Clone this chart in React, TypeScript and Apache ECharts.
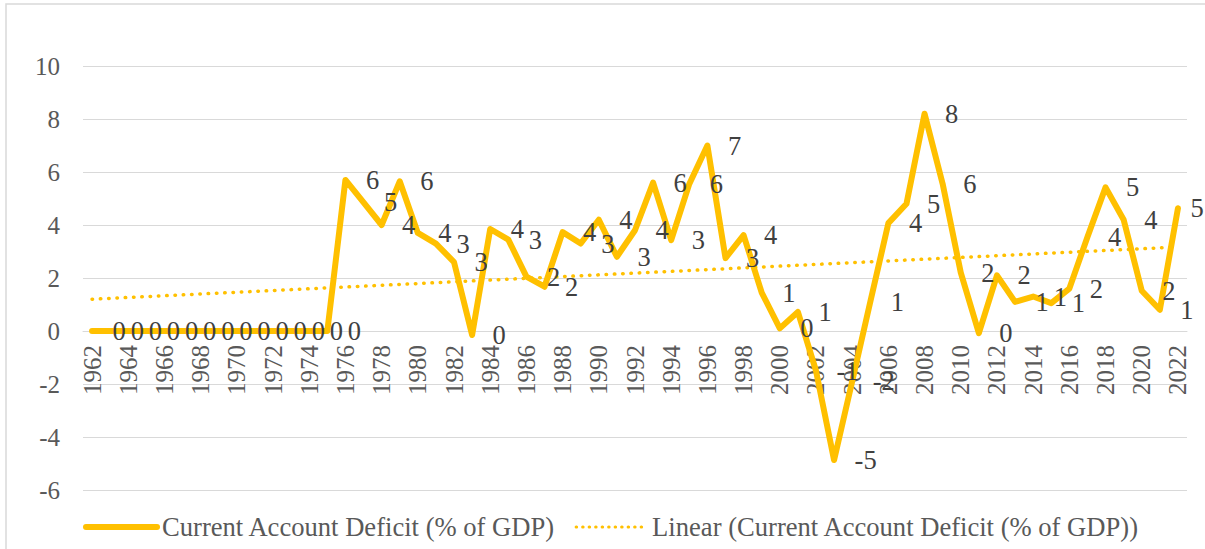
import React, { useEffect, useRef } from "react";
import * as echarts from "echarts";

const years: string[] = [
  "1962", "1963", "1964", "1965", "1966", "1967", "1968", "1969", "1970", "1971",
  "1972", "1973", "1974", "1975", "1976", "1977", "1978", "1979", "1980", "1981",
  "1982", "1983", "1984", "1985", "1986", "1987", "1988", "1989", "1990", "1991",
  "1992", "1993", "1994", "1995", "1996", "1997", "1998", "1999", "2000", "2001",
  "2002", "2003", "2004", "2005", "2006", "2007", "2008", "2009", "2010", "2011",
  "2012", "2013", "2014", "2015", "2016", "2017", "2018", "2019", "2020", "2021",
  "2022",
];

const deficit: number[] = [
  0, 0, 0, 0, 0, 0, 0, 0, 0, 0, 0, 0, 0, 0,
  5.7, 4.85, 4.0, 5.65, 3.7, 3.3, 2.6, -0.15, 3.85, 3.45,
  2.05, 1.67, 3.73, 3.3, 4.2, 2.8, 3.8, 5.6, 3.43, 5.55,
  7.0, 2.75, 3.62, 1.45, 0.1, 0.72, -1.5, -4.87, -1.9, 1.1,
  4.07, 4.8, 8.2, 5.55, 2.2, -0.08, 2.1, 1.1, 1.3, 1.05,
  1.6, 3.55, 5.42, 4.2, 1.52, 0.8, 4.63,
];

// Linear trend line endpoints (first and last year)
const trendEnds: [number, number] = [1.2, 3.17];

const yTicks = { min: -6, max: 10, interval: 2 };

const seriesNames = [
  "Current Account Deficit (% of GDP)",
  "Linear (Current Account Deficit (% of GDP))",
];

export default function App() {
  const ref = useRef<HTMLDivElement>(null);

  useEffect(() => {
    if (!ref.current) return;
    const chart = echarts.init(ref.current, undefined, { renderer: "svg" });
    const trend: (number | null)[] = years.map((_, i) =>
      i === 0 ? trendEnds[0] : i === years.length - 1 ? trendEnds[1] : null
    );
    const lastIdx = deficit.length - 1;
    const deficitData = deficit.map((v, i) =>
      i === lastIdx ? { value: v, label: { distance: 12 } } : v
    );
    const font = "Liberation Serif";
    const gridTop = 66;
    const gridBottom = 59;
    const plotH = 549 - gridTop - gridBottom;
    // place the category axis at the value 0 line
    const zeroOffset = -((0 - yTicks.min) / (yTicks.max - yTicks.min)) * plotH;
    chart.setOption({
      animation: false,
      backgroundColor: "#ffffff",
      textStyle: { fontFamily: font },
      graphic: [
        {
          type: "rect",
          shape: { x: 6, y: 4, width: 1220, height: 560 },
          style: { fill: "none", stroke: "#d9d9d9", lineWidth: 1.5 },
          silent: true,
        },
      ],
      grid: { left: 83, right: 18, top: gridTop, bottom: gridBottom, containLabel: false },
      legend: {
        left: 78,
        top: 508,
        itemWidth: 71,
        itemHeight: 14,
        itemGap: 19,
        itemStyle: { opacity: 0 },
        textStyle: { fontSize: 26.6, color: "#595959", fontFamily: font, lineHeight: 28 },
        data: [
          { name: seriesNames[0], lineStyle: { width: 6, color: "#FFC000", cap: "round" } },
          {
            name: seriesNames[1],
            lineStyle: { width: 3, color: "#FFC000", type: [0.5, 6], cap: "round" },
          },
        ],
      },
      xAxis: {
        type: "category",
        data: years,
        boundaryGap: true,
        offset: zeroOffset,
        axisLine: { onZero: false, lineStyle: { color: "#d9d9d9", width: 1 } },
        axisTick: { show: false },
        axisLabel: {
          rotate: 90,
          interval: 1,
          margin: 14,
          fontSize: 25,
          color: "#595959",
          fontFamily: font,
        },
        splitLine: { show: false },
      },
      yAxis: {
        type: "value",
        min: yTicks.min,
        max: yTicks.max,
        interval: yTicks.interval,
        axisLine: { show: false },
        axisTick: { show: false },
        axisLabel: { fontSize: 25, color: "#595959", fontFamily: font, margin: 23 },
        splitLine: { lineStyle: { color: "#d9d9d9", width: 1.2 } },
      },
      series: [
        {
          name: seriesNames[0],
          type: "line",
          data: deficitData,
          symbol: "circle",
          symbolSize: 1,
          color: "#FFC000",
          itemStyle: { color: "#FFC000" },
          lineStyle: { color: "#FFC000", width: 6, cap: "round", join: "round" },
          label: {
            show: true,
            position: "right",
            distance: 20,
            fontSize: 26.5,
            color: "#404040",
            fontFamily: font,
            formatter: (p: any) => {
              const r = Math.round(p.value);
              return r === 0 ? "0" : String(r);
            },
          },
          z: 3,
        },
        {
          name: seriesNames[1],
          type: "line",
          data: trend,
          connectNulls: true,
          symbol: "none",
          color: "#FFC000",
          lineStyle: { color: "#FFC000", width: 3.5, type: [0.5, 7.8], cap: "round" },
          z: 2,
        },
      ],
    });
    return () => chart.dispose();
  }, []);

  return (
    <div
      ref={ref}
      style={{ position: "absolute", left: 0, top: 0, width: 1205, height: 549 }}
    />
  );
}
